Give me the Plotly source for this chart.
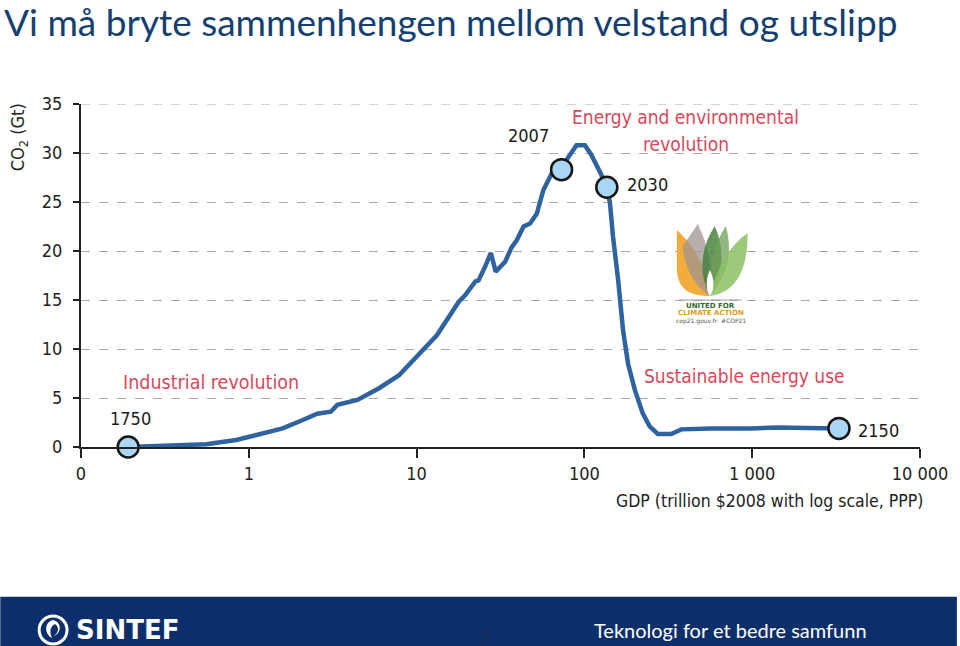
import plotly.graph_objects as go

# ---- data ----
gdp = [0.191, 0.557, 0.841, 1.05, 1.59, 2.0, 2.56, 3.08, 3.37, 4.44, 5.97, 7.83,
       10.3, 13.2, 17.8, 19.5, 22.4, 23.4, 25.6, 27.7, 29.6, 33.7, 36.9, 39.5,
       43.4, 47.4, 52.0, 56.9, 63.8, 73.1, 78.3, 89.7, 100.7, 110, 126, 136,
       142, 148, 159, 170, 182, 200, 223, 245, 274, 329, 378, 569, 984, 1416, 3289]
co2 = [0.0, 0.28, 0.71, 1.12, 1.9, 2.6, 3.4, 3.6, 4.3, 4.8, 6.0, 7.3,
       9.4, 11.4, 14.8, 15.5, 16.9, 17.0, 18.4, 19.8, 17.9, 18.9, 20.4, 21.1,
       22.5, 22.8, 23.8, 26.2, 27.9, 28.3, 29.3, 30.8, 30.8, 29.8, 27.8, 26.5,
       24.9, 21.5, 17.0, 11.9, 8.5, 5.8, 3.4, 2.1, 1.33, 1.33, 1.8, 1.9, 1.9, 2.0, 1.9]

milestone_years = ["1750", "2007", "2030", "2150"]
milestone_gdp = [0.191, 73.1, 136, 3289]
milestone_co2 = [0.0, 28.3, 26.5, 1.9]

x_tickvals = [0.1, 1, 10, 100, 1000, 10000]
x_ticktext = ["0", "1", "10", "100", "1 000", "10 000"]
y_tickvals = [0, 5, 10, 15, 20, 25, 30, 35]

# ---- geometry helpers (pixel -> paper) ----
W, H = 960, 646
L, R, T, B = 81, 923, 104, 447


def px(x):
    return (x - L) / (R - L)


def py(y):
    return (B - y) / (B - T)


def path(points_str):
    out = []
    for tok in points_str.split():
        if "," in tok:
            a, b = tok.split(",")
            out.append(f"{px(float(a)):.5f},{py(float(b)):.5f}")
        else:
            out.append(tok)
    return " ".join(out)


CH_FONT = "DejaVu Sans Condensed, Roboto, sans-serif"
RED = "#d9485c"

fig = go.Figure()
fig.add_trace(go.Scatter(
    x=gdp, y=co2, mode="lines",
    line=dict(color="#2e63a0", width=4.5),
    cliponaxis=False, hoverinfo="skip", showlegend=False))
fig.add_trace(go.Scatter(
    x=milestone_gdp, y=milestone_co2, mode="markers",
    marker=dict(size=21, color="#a9d6f5", line=dict(color="#151515", width=2.5)),
    cliponaxis=False, text=milestone_years, showlegend=False))

shapes = []
# white gap for the logo in the gridlines
shapes.append(dict(type="rect", xref="paper", yref="paper",
                   x0=px(662), x1=px(762), y0=py(330), y1=py(220),
                   fillcolor="white", line=dict(width=0), layer="between"))
# dashed top gridline at 35
shapes.append(dict(type="line", xref="paper", yref="y", x0=0, x1=1, y0=35, y1=35,
                   line=dict(color="#aaaaaa", width=1, dash="dash"), layer="between"))
# COP21 logo petals
petals = [
    ("M 679,230 C 696,245 709,266 712,296 C 693,296 680,290 679,270 Z", "#f0a830", 0.95),
    ("M 700,224 C 710,245 716,268 712,296 C 697,286 686,268 685,246 Z", "#9d9491", 0.75),
    ("M 717,226 C 728,250 725,276 712,296 C 701,274 702,249 717,226 Z", "#3f7d35", 0.8),
    ("M 728,226 C 736,252 729,278 712,296 C 711,268 716,245 728,226 Z", "#6f9f55", 0.75),
    ("M 750,233 C 750,266 741,292 712,296 C 719,269 731,246 750,233 Z", "#8cc063", 0.85),
    ("M 712,270 C 717,279 717,290 712,296 C 708,290 708,279 712,270 Z", "#ffffff", 1.0),
]
for d, col, op in petals:
    shapes.append(dict(type="path", xref="paper", yref="paper", path=path(d),
                       fillcolor=col, opacity=op, line=dict(width=0), layer="above"))
shapes.append(dict(type="line", xref="paper", yref="paper",
                   x0=px(681), x1=px(744), y0=py(300), y1=py(300),
                   line=dict(color="#999999", width=1)))
# footer bar
shapes.append(dict(type="rect", xref="paper", yref="paper",
                   x0=px(0), x1=px(960), y0=py(597), y1=py(646),
                   fillcolor="#0c2f6b", line=dict(width=0), layer="above"))
shapes.append(dict(type="line", xref="paper", yref="paper",
                   x0=px(0), x1=px(960), y0=py(596.5), y1=py(596.5),
                   line=dict(color="#c8ccd4", width=1)))
# SINTEF symbol
shapes.append(dict(type="circle", xref="paper", yref="paper",
                   x0=px(39), x1=px(67), y0=py(616), y1=py(644),
                   line=dict(color="white", width=3), fillcolor="#0c2f6b", layer="above"))
shapes.append(dict(type="path", xref="paper", yref="paper",
                   path=path("M 53,620 C 44,622 44,634 52,638 C 49,632 50,626 55,624 C 60,628 58,634 53,636 C 62,634 62,622 53,620 Z"),
                   fillcolor="white", line=dict(width=0), layer="above"))

ann = []


def add_text(text, x, y, size, color, font=CH_FONT, xanchor="center", angle=0, bold=False):
    ann.append(dict(text=f"<b>{text}</b>" if bold else text, xref="paper", yref="paper",
                    x=px(x), y=py(y), xanchor=xanchor, yanchor="middle",
                    showarrow=False, textangle=angle,
                    font=dict(family=font, size=size, color=color)))


add_text("Vi må bryte sammenhengen mellom velstand og utslipp", 2, 21, 37, "#153f72",
         font="Lato, Open Sans, sans-serif", xanchor="left")
add_text("CO<sub>2</sub> (Gt)", 19, 137, 18, "#222222", angle=-90)
add_text("1750", 131, 418, 18, "#1a1a1a")
add_text("2007", 530, 135, 18, "#1a1a1a")
add_text("2030", 650, 184, 18, "#1a1a1a")
add_text("2150", 881, 430, 18, "#1a1a1a")
add_text("Industrial revolution", 211, 382, 19.5, RED)
add_text("Energy and environmental", 688, 117, 19, RED)
add_text("revolution", 688, 144, 19, RED)
add_text("Sustainable energy use", 747, 376, 19, RED)
add_text("GDP (trillion $2008 with log scale, PPP)", 772, 501, 17.5, "#222222")
add_text("UNITED FOR", 713, 306, 7, "#2e6b2e", font="DejaVu Sans", bold=True)
add_text("CLIMATE ACTION", 713, 313, 7, "#e39b1c", font="DejaVu Sans", bold=True)
add_text("cop21.gouv.fr  #COP21", 713, 321, 6, "#555555", font="DejaVu Sans")
add_text("SINTEF", 74, 630, 26, "white", font="DejaVu Sans", xanchor="left", bold=True)
add_text("3", 485, 636, 18, "#1b2c52", font="Lato, sans-serif")
add_text("Teknologi for et bedre samfunn", 733, 630, 20, "white",
         font="Lato, Open Sans, sans-serif")

tickfont = dict(family=CH_FONT, size=18, color="#222222")

fig.update_layout(
    width=W, height=H, autosize=False,
    margin=dict(l=L, r=W - R, t=T, b=H - B, pad=0),
    paper_bgcolor="white", plot_bgcolor="white",
    showlegend=False,
    shapes=shapes, annotations=ann,
    xaxis=dict(type="log", range=[-1, 4], tickvals=x_tickvals, ticktext=x_ticktext,
               ticks="outside", ticklen=9, tickwidth=1.5, tickcolor="#222222",
               showline=True, linecolor="#222222", linewidth=2, showgrid=False,
               zeroline=False, tickfont=tickfont),
    yaxis=dict(range=[0, 35], tickvals=y_tickvals, ticks="outside", ticklen=6,
               tickwidth=1.5, tickcolor="#222222", showline=True, linecolor="#222222",
               linewidth=2, showgrid=True, gridcolor="#aaaaaa", griddash="dash",
               gridwidth=1, zeroline=False, ticklabelstandoff=7,
               tickfont=tickfont),
)

fig.write_html("out.html", config={"displayModeBar": False},
               post_script="document.body.style.margin='0px';document.body.style.overflow='hidden';")
